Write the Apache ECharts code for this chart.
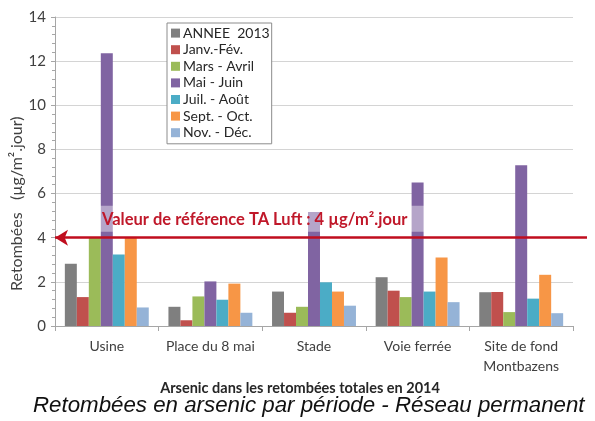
<!DOCTYPE html>
<html>
<head>
<meta charset="utf-8">
<script src="https://cdn.jsdelivr.net/npm/echarts@6/dist/echarts.min.js"></script>
<style>
  html, body { margin: 0; padding: 0; background: #ffffff; }
  #chart { width: 595px; height: 421px; }
</style>
</head>
<body>
<div id="chart"></div>
<script>
// Sampling sites (x categories)
const sites = ['Usine', 'Place du 8 mai', 'Stade', 'Voie ferrée', 'Site de fond\nMontbazens'];

// Arsenic deposition per period, µg/m².jour
const annee2013 = [2.82, 0.87, 1.56, 2.21, 1.53];
const janvFev   = [1.31, 0.26, 0.60, 1.60, 1.54];
const marsAvril = [4.00, 1.34, 0.87, 1.31, 0.63];
const maiJuin   = [12.36, 2.02, 5.16, 6.50, 7.28];
const juilAout  = [3.24, 1.19, 1.98, 1.56, 1.24];
const septOct   = [4.00, 1.92, 1.56, 3.10, 2.32];
const novDec    = [0.84, 0.60, 0.92, 1.08, 0.58];

const seriesNames = ['ANNEE  2013', 'Janv.-Fév.', 'Mars - Avril', 'Mai - Juin', 'Juil. - Août', 'Sept. - Oct.', 'Nov. - Déc.'];
const seriesValues = [annee2013, janvFev, marsAvril, maiJuin, juilAout, septOct, novDec];
const seriesColors = ['#7f7f7f', '#c0504d', '#9bbb59', '#8064a2', '#4bacc6', '#f79646', '#95b3d7'];

// Reference value (TA Luft)
const referenceValue = 4;
const referenceLabel = 'Valeur de référence TA Luft : 4 µg/m².jour';

// Y axis range
const yMin = 0, yMax = 14, yStep = 2;

const calibriLike = 'Lato, "Open Sans", sans-serif';

const chart = echarts.init(document.getElementById('chart'), null, { renderer: 'canvas' });

const barSeries = seriesNames.map((name, i) => ({
  name: name,
  type: 'bar',
  xAxisIndex: 0,
  yAxisIndex: 0,
  data: seriesValues[i],
  itemStyle: { color: seriesColors[i] },
  barGap: '0%',
  barCategoryGap: '19%'
}));

chart.setOption({
  animation: false,
  backgroundColor: '#ffffff',
  textStyle: { fontFamily: calibriLike },
  grid: [
    { left: 55, right: 22, top: 17, bottom: 95 },
    // wider twin grid carrying the reference arrow past the plot edge
    { left: 55, right: 8, top: 17, bottom: 95 }
  ],
  xAxis: [
    {
      type: 'category',
      gridIndex: 0,
      data: sites,
      axisLine: { lineStyle: { color: '#a6a6a6', width: 1 } },
      axisTick: { show: true, length: 5, lineStyle: { color: '#a6a6a6' } },
      axisLabel: { color: '#404040', fontSize: 14, fontFamily: calibriLike, margin: 10, lineHeight: 20, interval: 0 },
      name: 'Arsenic dans les retombées totales en 2014',
      nameLocation: 'middle',
      nameGap: 53,
      nameTextStyle: { color: '#262626', fontSize: 14.5, fontWeight: 'bold', fontFamily: calibriLike, padding: [0, 28, 0, 0] }
    },
    {
      type: 'category',
      gridIndex: 1,
      data: sites,
      show: false
    }
  ],
  yAxis: [
    {
      type: 'value',
      gridIndex: 0,
      min: yMin,
      max: yMax,
      interval: yStep,
      axisLine: { show: true, lineStyle: { color: '#a6a6a6' } },
      axisTick: { show: true, inside: false, length: 4, lineStyle: { color: '#a6a6a6' } },
      minorTick: { show: true, splitNumber: 5, length: 3, lineStyle: { color: '#a6a6a6' } },
      splitLine: { show: true, lineStyle: { color: '#d4d4d4', width: 1 } },
      axisLabel: { color: '#404040', fontSize: 15, fontFamily: calibriLike, margin: 9 }
    },
    {
      type: 'value',
      gridIndex: 1,
      min: yMin,
      max: yMax,
      interval: yStep,
      show: false,
      splitLine: { show: false }
    }
  ],
  legend: {
    orient: 'vertical',
    left: 167,
    top: 23,
    data: seriesNames,
    icon: 'rect',
    itemWidth: 9,
    itemHeight: 9,
    itemGap: 2.4,
    padding: [3, 2, 4, 4],
    backgroundColor: '#ffffff',
    borderColor: '#8c8c8c',
    borderWidth: 1,
    borderRadius: 0,
    textStyle: { color: '#262626', fontSize: 14, fontFamily: calibriLike, lineHeight: 14.2, padding: [0, 0, 0, -2] }
  },
  graphic: [
    {
      type: 'text',
      rotation: Math.PI / 2,
      x: 9,
      y: 291,
      style: {
        text: 'Retombées   (µg/m².jour)',
        fill: '#404040',
        font: '16px ' + calibriLike,
        textVerticalAlign: 'top'
      }
    },
    {
      type: 'text',
      left: 33,
      top: 395,
      style: {
        text: 'Retombées en arsenic par période - Réseau permanent',
        fill: '#111111',
        font: 'italic 22.3px "Liberation Sans", Arial, sans-serif'
      }
    }
  ],
  series: barSeries.concat([
    {
      name: 'reference',
      type: 'line',
      xAxisIndex: 1,
      yAxisIndex: 1,
      data: [],
      silent: true,
      z: 10,
      markLine: {
        silent: true,
        symbol: ['arrow', 'none'],
        symbolSize: [12, 13],
        lineStyle: { color: '#c00d1e', width: 2.6, type: 'solid' },
        label: {
          show: true,
          position: 'insideStartTop',
          formatter: referenceLabel,
          color: '#c0182a',
          fontSize: 16.5,
          fontWeight: 'bold',
          fontFamily: calibriLike,
          backgroundColor: 'rgba(255,255,255,0.42)',
          padding: [5, 18, 4, 3],
          distance: [44, 6]
        },
        data: [{ yAxis: referenceValue }]
      }
    }
  ])
});
</script>
</body>
</html>
